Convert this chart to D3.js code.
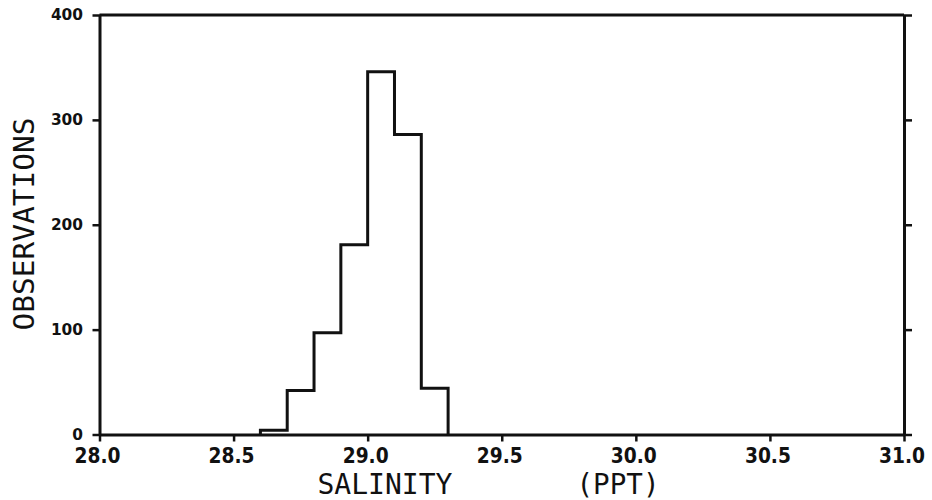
<!DOCTYPE html>
<html>
<head>
<meta charset="utf-8">
<script src="https://cdn.jsdelivr.net/npm/d3@7"></script>
<style>
html,body{margin:0;padding:0;background:#fff;}
svg{display:block;}
</style>
</head>
<body>
<svg id="chart" width="932" height="500"></svg>
<script>
// ---- data ----
const binEdges = [28.6, 28.7, 28.8, 28.9, 29.0, 29.1, 29.2, 29.3];
const counts = [4, 42, 97, 181, 346, 286, 44];
const xTicks = [28.0, 28.5, 29.0, 29.5, 30.0, 30.5, 31.0];
const xTickLabels = ["28.0", "28.5", "29.0", "29.5", "30.0", "30.5", "31.0"];
const yTicks = [0, 100, 200, 300, 400];
const yTickLabels = ["0", "100", "200", "300", "400"];
const xTitleParts = ["SALINITY", "(PPT)"];
const yTitle = "OBSERVATIONS";

// ---- layout ----
const mLeft = 99.5, mRight = 904, mTop = 15, mBottom = 434.5;
const ink = "#111";
const svg = d3.select("#chart");
const x = d3.scaleLinear().domain([28.0, 31.0]).range([mLeft, mRight]);
const y = d3.scaleLinear().domain([0, 400]).range([mBottom, mTop]);

// frame: top line
svg.append("line").attr("x1", mLeft).attr("x2", mRight).attr("y1", mTop).attr("y2", mTop)
  .attr("stroke", ink).attr("stroke-width", 3);

// bottom axis
const xAxis = d3.axisBottom(x).tickValues(xTicks).tickSize(7).tickSizeOuter(0)
  .tickFormat((d, i) => xTickLabels[i]);
const gx = svg.append("g").attr("transform", `translate(0,${mBottom})`).call(xAxis);
gx.select(".domain").attr("stroke", ink).attr("stroke-width", 3);
gx.selectAll(".tick line").attr("stroke", ink).attr("stroke-width", 2.5);
gx.selectAll(".tick text").attr("fill", ink)
  .attr("font-family", "DejaVu Sans").attr("font-weight", "bold").attr("font-size", 20.5)
  .attr("textLength", 46).attr("lengthAdjust", "spacingAndGlyphs")
  .attr("dx", -2.5).attr("y", 28.5).attr("dy", 0);

// left axis
const yAxis = d3.axisLeft(y).tickValues(yTicks).tickSize(7).tickSizeOuter(0)
  .tickFormat((d, i) => yTickLabels[i]);
const gy = svg.append("g").attr("transform", `translate(${mLeft},0)`).call(yAxis);
gy.select(".domain").attr("stroke", ink).attr("stroke-width", 3);
gy.selectAll(".tick line").attr("stroke", ink).attr("stroke-width", 2.5).attr("x1", 1);
gy.selectAll(".tick text").attr("fill", ink)
  .attr("font-family", "DejaVu Sans").attr("font-weight", "bold").attr("font-size", 16)
  .attr("textLength", (d, i) => yTickLabels[i].length * 10.7)
  .attr("lengthAdjust", "spacingAndGlyphs")
  .attr("x", -16.5).attr("dy", "0.3em");

// right axis (ticks only)
const yAxisR = d3.axisRight(y).tickValues(yTicks).tickSize(8).tickSizeOuter(0).tickFormat("");
const gr = svg.append("g").attr("transform", `translate(${mRight},0)`).call(yAxisR);
gr.select(".domain").attr("stroke", ink).attr("stroke-width", 3);
gr.selectAll(".tick line").attr("stroke", ink).attr("stroke-width", 2.5).attr("x1", -1);

// histogram outline
let d = `M${x(binEdges[0])},${y(0)}`;
counts.forEach((c, i) => {
  d += `V${y(c)}H${x(binEdges[i + 1])}`;
});
d += `V${y(0)}`;
svg.append("path").attr("d", d).attr("fill", "none").attr("stroke", ink)
  .attr("stroke-width", 3).attr("stroke-linejoin", "miter");

// axis titles
svg.append("text").text(yTitle)
  .attr("transform", "translate(34,224) rotate(-90)")
  .attr("text-anchor", "middle")
  .attr("font-family", "DejaVu Sans Mono").attr("font-size", 27.5).attr("fill", ink)
  .attr("textLength", 213).attr("lengthAdjust", "spacingAndGlyphs");

const xTitlePos = [385, 618];
const xTitleLen = [135, 83];
xTitleParts.forEach((t, i) => {
  svg.append("text").text(t)
    .attr("x", xTitlePos[i]).attr("y", 494)
    .attr("text-anchor", "middle")
    .attr("font-family", "DejaVu Sans Mono").attr("font-size", 29).attr("fill", ink)
    .attr("textLength", xTitleLen[i]).attr("lengthAdjust", "spacingAndGlyphs");
});
</script>
</body>
</html>
